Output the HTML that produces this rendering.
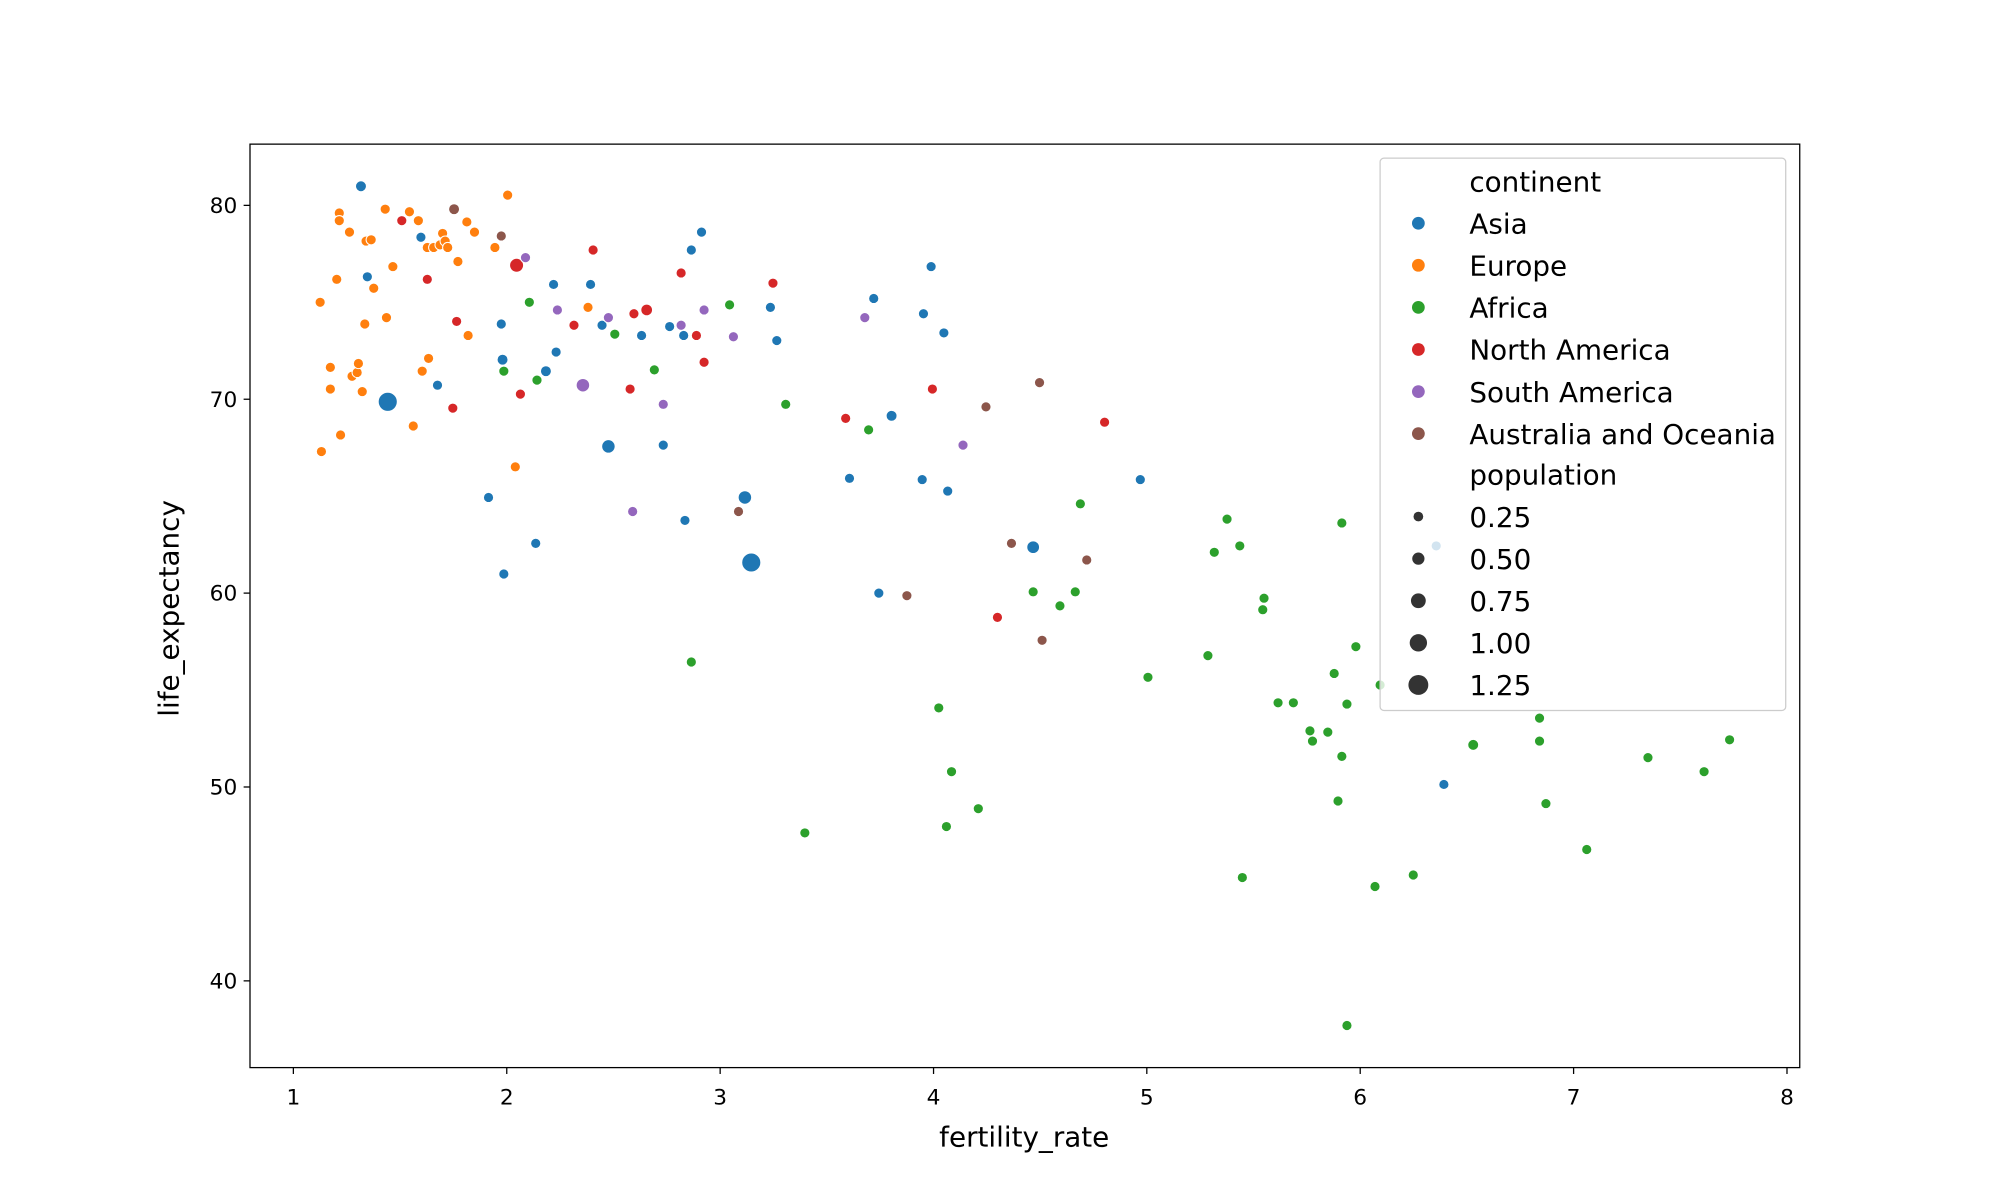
<!DOCTYPE html>
<html><head><meta charset="utf-8"><style>html,body{margin:0;padding:0;background:#fff}svg{display:block}text{font-family:"DejaVu Sans","Liberation Sans",sans-serif;fill:#000}</style></head><body>
<svg width="2000" height="1200" viewBox="0 0 1568 940.8" preserveAspectRatio="none" xmlns="http://www.w3.org/2000/svg">
<rect width="1568" height="941" fill="#fff"/>
<g stroke="#fff" stroke-width="0.8">
<g fill="#1f77b4">
<circle cx="283" cy="146" r="4.3"/><circle cx="330" cy="186" r="4"/><circle cx="288" cy="217" r="4"/><circle cx="393" cy="254" r="4"/><circle cx="394" cy="282" r="4.3"/><circle cx="343" cy="302" r="4"/><circle cx="304" cy="315" r="7.5"/><circle cx="428" cy="291" r="4.3"/><circle cx="436" cy="276" r="4"/><circle cx="434" cy="223" r="4"/><circle cx="463" cy="223" r="4"/><circle cx="383" cy="390" r="4"/><circle cx="420" cy="426" r="4"/><circle cx="395" cy="450" r="4"/><circle cx="472" cy="255" r="4"/><circle cx="503" cy="263" r="4"/><circle cx="525" cy="256" r="4"/><circle cx="536" cy="263" r="4"/><circle cx="542" cy="196" r="4"/><circle cx="550" cy="182" r="4"/><circle cx="604" cy="241" r="4"/><circle cx="609" cy="267" r="4"/><circle cx="477" cy="350" r="5.3"/><circle cx="520" cy="349" r="4"/><circle cx="537" cy="408" r="4"/><circle cx="584" cy="390" r="5.3"/><circle cx="589" cy="441" r="7.5"/><circle cx="666" cy="375" r="4"/><circle cx="689" cy="465" r="4"/><circle cx="685" cy="234" r="4"/><circle cx="699" cy="326" r="4.3"/><circle cx="724" cy="246" r="4"/><circle cx="730" cy="209" r="4"/><circle cx="740" cy="261" r="4"/><circle cx="723" cy="376" r="4"/><circle cx="743" cy="385" r="4"/><circle cx="810" cy="429" r="5"/><circle cx="894" cy="376" r="4"/><circle cx="1126" cy="428" r="4"/><circle cx="1132" cy="615" r="4"/>
</g>
<g fill="#ff7f0e">
<circle cx="251" cy="237" r="4"/><circle cx="264" cy="219" r="4"/><circle cx="266" cy="167" r="4"/><circle cx="266" cy="173" r="4"/><circle cx="274" cy="182" r="4"/><circle cx="259" cy="288" r="4"/><circle cx="259" cy="305" r="4"/><circle cx="252" cy="354" r="4"/><circle cx="267" cy="341" r="4"/><circle cx="276" cy="295" r="4"/><circle cx="280" cy="292" r="4"/><circle cx="281" cy="285" r="4"/><circle cx="284" cy="307" r="4"/><circle cx="286" cy="254" r="4"/><circle cx="287" cy="189" r="4"/><circle cx="291" cy="188" r="4"/><circle cx="293" cy="226" r="4"/><circle cx="302" cy="164" r="4"/><circle cx="303" cy="249" r="4"/><circle cx="308" cy="209" r="4"/><circle cx="321" cy="166" r="4"/><circle cx="328" cy="173" r="4"/><circle cx="324" cy="334" r="4"/><circle cx="331" cy="291" r="4"/><circle cx="335" cy="194" r="4"/><circle cx="336" cy="281" r="4"/><circle cx="340" cy="194" r="4"/><circle cx="345" cy="192" r="4"/><circle cx="347" cy="183" r="4"/><circle cx="349" cy="189" r="4"/><circle cx="351" cy="194" r="4"/><circle cx="359" cy="205" r="4"/><circle cx="366" cy="174" r="4"/><circle cx="372" cy="182" r="4"/><circle cx="367" cy="263" r="4"/><circle cx="388" cy="194" r="4"/><circle cx="398" cy="153" r="4"/><circle cx="404" cy="366" r="4"/><circle cx="461" cy="241" r="4"/>
</g>
<g fill="#2ca02c">
<circle cx="395" cy="291" r="4"/><circle cx="415" cy="237" r="4"/><circle cx="421" cy="298" r="4"/><circle cx="482" cy="262" r="4"/><circle cx="513" cy="290" r="4"/><circle cx="572" cy="239" r="4"/><circle cx="542" cy="519" r="4"/><circle cx="616" cy="317" r="4"/><circle cx="631" cy="653" r="4"/><circle cx="681" cy="337" r="4"/><circle cx="736" cy="555" r="4"/><circle cx="746" cy="605" r="4"/><circle cx="742" cy="648" r="4"/><circle cx="767" cy="634" r="4"/><circle cx="810" cy="464" r="4"/><circle cx="831" cy="475" r="4"/><circle cx="843" cy="464" r="4"/><circle cx="847" cy="395" r="4"/><circle cx="900" cy="531" r="4"/><circle cx="947" cy="514" r="4"/><circle cx="952" cy="433" r="4"/><circle cx="962" cy="407" r="4"/><circle cx="972" cy="428" r="4"/><circle cx="991" cy="469" r="4"/><circle cx="990" cy="478" r="4"/><circle cx="1002" cy="551" r="4"/><circle cx="1014" cy="551" r="4"/><circle cx="1027" cy="573" r="4"/><circle cx="1029" cy="581" r="4"/><circle cx="1041" cy="574" r="4"/><circle cx="1046" cy="528" r="4"/><circle cx="1052" cy="410" r="4"/><circle cx="1052" cy="593" r="4"/><circle cx="1049" cy="628" r="4"/><circle cx="1056" cy="552" r="4"/><circle cx="1063" cy="507" r="4"/><circle cx="1056" cy="804" r="4"/><circle cx="1078" cy="695" r="4"/><circle cx="1082" cy="537" r="4"/><circle cx="1108" cy="686" r="4"/><circle cx="974" cy="688" r="4"/><circle cx="1155" cy="584" r="4.3"/><circle cx="1207" cy="563" r="4"/><circle cx="1207" cy="581" r="4"/><circle cx="1212" cy="630" r="4"/><circle cx="1244" cy="666" r="4"/><circle cx="1292" cy="594" r="4"/><circle cx="1336" cy="605" r="4"/><circle cx="1356" cy="580" r="4"/>
</g>
<g fill="#d62728">
<circle cx="315" cy="173" r="4"/><circle cx="335" cy="219" r="4"/><circle cx="355" cy="320" r="4"/><circle cx="358" cy="252" r="4"/><circle cx="405" cy="208" r="5.5"/><circle cx="408" cy="309" r="4"/><circle cx="450" cy="255" r="4"/><circle cx="465" cy="196" r="4"/><circle cx="494" cy="305" r="4"/><circle cx="497" cy="246" r="4"/><circle cx="507" cy="243" r="4.6"/><circle cx="534" cy="214" r="4"/><circle cx="546" cy="263" r="4"/><circle cx="552" cy="284" r="4"/><circle cx="606" cy="222" r="4"/><circle cx="663" cy="328" r="4"/><circle cx="731" cy="305" r="4"/><circle cx="782" cy="484" r="4"/><circle cx="866" cy="331" r="4"/>
</g>
<g fill="#9467bd">
<circle cx="412" cy="202" r="4"/><circle cx="437" cy="243" r="4"/><circle cx="457" cy="302" r="5.3"/><circle cx="477" cy="249" r="4"/><circle cx="496" cy="401" r="4"/><circle cx="520" cy="317" r="4"/><circle cx="534" cy="255" r="4"/><circle cx="552" cy="243" r="4"/><circle cx="575" cy="264" r="4"/><circle cx="678" cy="249" r="4"/><circle cx="755" cy="349" r="4"/>
</g>
<g fill="#8c564b">
<circle cx="356" cy="164" r="4.3"/><circle cx="393" cy="185" r="4"/><circle cx="579" cy="401" r="4"/><circle cx="711" cy="467" r="4"/><circle cx="773" cy="319" r="4"/><circle cx="793" cy="426" r="4"/><circle cx="815" cy="300" r="4"/><circle cx="817" cy="502" r="4"/><circle cx="852" cy="439" r="4"/>
</g>
</g>
<rect x="196" y="113" width="1215" height="724" fill="none" stroke="#000" stroke-width="1"/>
<g stroke="#000" stroke-width="1">
<line x1="230" y1="837" x2="230" y2="842"/><line x1="397.3" y1="837" x2="397.3" y2="842"/><line x1="564.6" y1="837" x2="564.6" y2="842"/><line x1="731.9" y1="837" x2="731.9" y2="842"/><line x1="899.1" y1="837" x2="899.1" y2="842"/><line x1="1066.4" y1="837" x2="1066.4" y2="842"/><line x1="1233.7" y1="837" x2="1233.7" y2="842"/><line x1="1401" y1="837" x2="1401" y2="842"/>
<line x1="191" y1="161" x2="196" y2="161"/><line x1="191" y1="313" x2="196" y2="313"/><line x1="191" y1="465" x2="196" y2="465"/><line x1="191" y1="617" x2="196" y2="617"/><line x1="191" y1="769" x2="196" y2="769"/>
</g>
<g font-size="17" text-anchor="middle">
<text x="230" y="866">1</text><text x="397.3" y="866">2</text><text x="564.6" y="866">3</text><text x="731.9" y="866">4</text><text x="899.1" y="866">5</text><text x="1066.4" y="866">6</text><text x="1233.7" y="866">7</text><text x="1401" y="866">8</text>
</g>
<text x="803" y="899" font-size="21.8" text-anchor="middle">fertility_rate</text>
<g font-size="17" text-anchor="end">
<text x="186" y="167">80</text><text x="186" y="319">70</text><text x="186" y="471">60</text><text x="186" y="623">50</text><text x="186" y="775">40</text>
</g>
<text font-size="21.8" text-anchor="middle" transform="translate(140,477) rotate(-90)">life_expectancy</text>
<rect x="1082" y="124" width="318" height="433" rx="3" fill="#fff" fill-opacity="0.8" stroke="#ccc" stroke-width="1"/>
<g font-size="21.8">
<text x="1152" y="150">continent</text>
<text x="1152" y="183">Asia</text><text x="1152" y="216">Europe</text><text x="1152" y="249">Africa</text><text x="1152" y="282">North America</text><text x="1152" y="315">South America</text><text x="1152" y="348">Australia and Oceania</text>
<text x="1152" y="380">population</text>
<text x="1152" y="413">0.25</text><text x="1152" y="446">0.50</text><text x="1152" y="479">0.75</text><text x="1152" y="512">1.00</text><text x="1152" y="545">1.25</text>
</g>
<circle cx="1112" cy="175" r="5" fill="#1f77b4"/><circle cx="1112" cy="208" r="5" fill="#ff7f0e"/><circle cx="1112" cy="241" r="5" fill="#2ca02c"/><circle cx="1112" cy="274" r="5" fill="#d62728"/><circle cx="1112" cy="307" r="5" fill="#9467bd"/><circle cx="1112" cy="340" r="5" fill="#8c564b"/>
<g fill="#333"><circle cx="1112" cy="405" r="3.8"/><circle cx="1112" cy="438" r="4.8"/><circle cx="1112" cy="471" r="5.8"/><circle cx="1112" cy="504" r="6.8"/><circle cx="1112" cy="537" r="7.8"/></g>
</svg>
</body></html>
